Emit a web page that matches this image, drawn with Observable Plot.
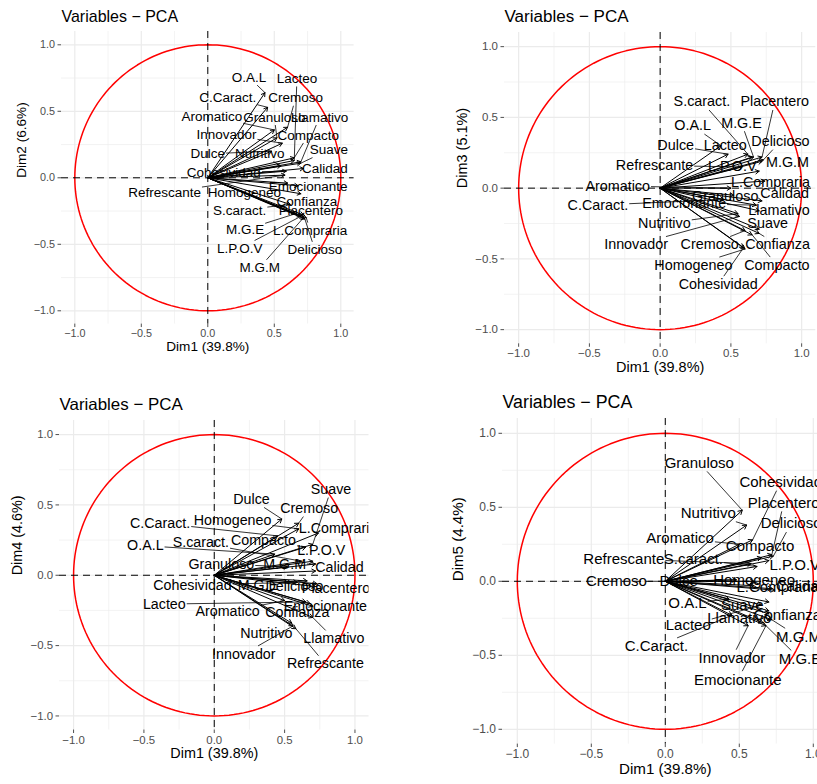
<!DOCTYPE html>
<html><head><meta charset="utf-8">
<script src="https://cdn.jsdelivr.net/npm/d3@7"></script>
<script src="https://cdn.jsdelivr.net/npm/@observablehq/plot@0.6"></script>
<style>
body{margin:0;background:#fff;}
#wrap{position:relative;width:817px;height:784px;overflow:hidden;background:#fff;}
#wrap svg{position:absolute;}
</style></head><body><div id="wrap"></div>
<script>
// ---- data ----
const variables = ["O.A.L","Lacteo","C.Caract.","Cremoso","Aromatico","Granuloso","Llamativo","Innovador","Compacto","Suave","Dulce","Nutritivo","Calidad","Cohesividad","Refrescante","Homogeneo","Emocionante","Confianza","S.caract.","Placentero","M.G.E","L.Compraria","L.P.O.V","Delicioso","M.G.M"];
const dim1 = [0.43,0.65,0.45,0.60,0.50,0.52,0.70,0.56,0.65,0.70,0.48,0.55,0.72,0.59,0.58,0.60,0.68,0.70,0.62,0.72,0.66,0.74,0.70,0.73,0.72];
const dim2 = [0.64,0.13,0.53,0.38,0.36,0.30,0.12,0.26,0.15,0.11,0.20,0.09,0.07,0.05,0.02,-0.04,-0.06,-0.12,-0.20,-0.28,-0.27,-0.30,-0.29,-0.31,-0.30];
const dim3 = [0.30,0.22,-0.08,-0.30,0.00,-0.05,-0.16,-0.20,-0.33,-0.29,0.24,-0.18,-0.09,-0.42,0.15,-0.43,-0.12,-0.32,0.24,0.22,0.22,0.05,0.12,0.20,0.19];
const dim4 = [0.15,-0.19,0.28,0.37,-0.18,0.06,-0.30,-0.36,0.20,0.22,0.40,-0.34,0.03,-0.05,-0.38,0.33,-0.20,-0.22,0.10,-0.08,-0.04,0.30,0.10,-0.06,0.08];
const dim5 = [-0.12,-0.16,-0.23,0.00,0.25,0.48,-0.22,-0.30,0.16,-0.14,0.01,0.38,-0.05,0.28,0.12,-0.03,-0.30,-0.20,0.10,0.18,-0.28,-0.06,0.14,0.17,-0.26];
const axisTitles = {dim1:"Dim1 (39.8%)", dim2:"Dim2 (6.6%)", dim3:"Dim3 (5.1%)", dim4:"Dim4 (4.6%)", dim5:"Dim5 (4.4%)"};
const chartTitle = "Variables − PCA";
const tickValues = [-1,-0.5,0,0.5,1];
const minorTicks = [-0.75,-0.25,0.25,0.75];
// repelled label positions (data units) for each panel
const labels12 = [[0.31,0.755],[0.67,0.745],[0.15,0.605],[0.66,0.60],[0.03,0.46],[0.50,0.455],[0.84,0.455],[0.14,0.325],[0.755,0.32],[0.91,0.21],[0.0,0.18],[0.39,0.18],[0.88,0.065],[0.12,0.04],[-0.325,-0.11],[0.275,-0.11],[0.755,-0.07],[0.745,-0.18],[0.24,-0.245],[0.775,-0.25],[0.28,-0.39],[0.77,-0.395],[0.24,-0.53],[0.805,-0.54],[0.39,-0.675]];
const labels13 = [[0.23,0.44],[0.46,0.30],[-0.44,-0.12],[0.35,-0.40],[-0.30,0.015],[0.46,-0.06],[0.84,-0.16],[-0.17,-0.40],[0.825,-0.545],[0.76,-0.25],[0.11,0.30],[0.03,-0.25],[0.88,-0.04],[0.41,-0.68],[-0.04,0.16],[0.235,-0.545],[0.17,-0.11],[0.83,-0.40],[0.295,0.61],[0.81,0.61],[0.575,0.46],[0.78,0.04],[0.51,0.155],[0.85,0.33],[0.90,0.18]];
const labels14 = [[-0.49,0.21],[-0.355,-0.205],[-0.385,0.37],[0.675,0.475],[0.095,-0.26],[0.05,0.08],[0.85,-0.45],[0.21,-0.56],[0.35,0.245],[0.83,0.61],[0.265,0.54],[0.37,-0.41],[0.89,0.055],[-0.155,-0.07],[0.79,-0.63],[0.13,0.39],[0.79,-0.225],[0.59,-0.265],[-0.095,0.23],[0.865,-0.095],[0.31,-0.07],[0.88,0.33],[0.76,0.18],[0.57,-0.08],[0.50,0.08]];
const labels15 = [[0.15,-0.15],[0.155,-0.30],[-0.06,-0.44],[-0.33,0.0],[0.10,0.29],[0.23,0.80],[0.50,-0.25],[0.45,-0.52],[0.64,0.24],[0.52,-0.16],[0.09,0.0],[0.29,0.46],[0.92,-0.03],[0.78,0.67],[-0.28,0.15],[0.60,0.01],[0.49,-0.665],[0.825,-0.23],[0.19,0.15],[0.80,0.53],[0.91,-0.525],[0.76,-0.04],[0.875,0.11],[0.85,0.39],[0.90,-0.375]];

// ---- layout ----
const panels = [
  {dimY: dim2, yTitle: axisTitles.dim2, labels: labels12, originX: 207, originY: 177, unit: 133},
  {dimY: dim3, yTitle: axisTitles.dim3, labels: labels13, originX: 659.3, originY: 187.7, unit: 141.5},
  {dimY: dim4, yTitle: axisTitles.dim4, labels: labels14, originX: 213.3, originY: 575, unit: 140.7},
  {dimY: dim5, yTitle: axisTitles.dim5, labels: labels15, originX: 664.3, originY: 581, unit: 148}
];
const circle = d3.range(0, 361, 2).map(a => ({x: Math.cos(a*Math.PI/180), y: Math.sin(a*Math.PI/180)}));
const FONT = "'Liberation Sans', Arial, Helvetica, sans-serif";
const ctx = document.createElement("canvas").getContext("2d");
const fmt = d3.format(".1f");
const wrap = document.getElementById("wrap");

function panel(cfg) {
  const u = cfg.unit, s = u / 133;
  const mL = 70, mT = 36, mR = 20, mB = 46;
  const W = mL + 2.2*u + mR, H = mT + 2.2*u + mB;
  const left = cfg.originX - 1.1*u - mL, top = cfg.originY - 1.1*u - mT;
  const fsLab = 13.5*s, fsTick = 10.8*s, fsTitle = 16*s, fsAxis = 13.6*s;
  const data = variables.map((name, i) => ({name, x: dim1[i], y: cfg.dimY[i], lx: cfg.labels[i][0], ly: cfg.labels[i][1]}));
  ctx.font = `${fsLab}px 'Liberation Sans'`;
  const segs = [];
  for (const d of data) {
    const hw = ctx.measureText(d.name).width/2 + 1, hh = fsLab*0.5 + 1;
    const dxp = (d.x - d.lx)*u, dyp = (d.y - d.ly)*u;
    if (Math.abs(dxp) <= hw && Math.abs(dyp) <= hh) continue;
    const t = Math.min(Math.abs(dxp) > 0 ? hw/Math.abs(dxp) : Infinity, Math.abs(dyp) > 0 ? hh/Math.abs(dyp) : Infinity);
    if (Math.hypot(dxp, dyp)*(1 - t) < 5) continue;
    segs.push({x1: d.lx + (d.x - d.lx)*t, y1: d.ly + (d.y - d.ly)*t, x2: d.x, y2: d.y});
  }
  const svg = Plot.plot({
    width: W, height: H, marginLeft: mL, marginRight: mR, marginTop: mT, marginBottom: mB,
    x: {domain: [-1.1, 1.1], label: null},
    y: {domain: [-1.1, 1.1], label: null},
    style: {fontFamily: FONT, fontSize: fsTick + "px", background: "transparent", overflow: "visible"},
    marks: [
      Plot.gridX(minorTicks, {stroke: "#ebebeb", strokeOpacity: 1, strokeWidth: 0.6}),
      Plot.gridY(minorTicks, {stroke: "#ebebeb", strokeOpacity: 1, strokeWidth: 0.6}),
      Plot.gridX(tickValues, {stroke: "#ebebeb", strokeOpacity: 1, strokeWidth: 1.2}),
      Plot.gridY(tickValues, {stroke: "#ebebeb", strokeOpacity: 1, strokeWidth: 1.2}),
      Plot.axisX(tickValues, {tickFormat: fmt, tickSize: 3.5, tickPadding: 2, color: "#4d4d4d", label: null, fontSize: fsTick}),
      Plot.axisY(tickValues, {tickFormat: fmt, tickSize: 3.5, tickPadding: 3, color: "#4d4d4d", label: null, fontSize: fsTick}),
      Plot.line(circle, {x: "x", y: "y", stroke: "#ff0000", strokeWidth: 1.5}),
      Plot.ruleX([0], {stroke: "#000", strokeWidth: 1, strokeDasharray: "7,5"}),
      Plot.ruleY([0], {stroke: "#000", strokeWidth: 1, strokeDasharray: "7,5"}),
      Plot.arrow(data, {x1: () => 0, y1: () => 0, x2: "x", y2: "y", stroke: "#000", strokeWidth: 1, headLength: 6*s, clip: true}),
      Plot.link(segs, {x1: "x1", y1: "y1", x2: "x2", y2: "y2", stroke: "#000", strokeWidth: 0.8, clip: true}),
      Plot.text(data, {x: "lx", y: "ly", text: "name", fontSize: fsLab, fill: "#000", clip: true}),
      Plot.text([chartTitle], {frameAnchor: "top-left", dy: -9.7*s, lineAnchor: "bottom", textAnchor: "start", fontSize: fsTitle, fill: "#000"}),
      Plot.text([axisTitles.dim1], {frameAnchor: "bottom", dy: 0.2*u, fontSize: fsAxis, fill: "#000"}),
      Plot.text([cfg.yTitle], {frameAnchor: "left", dx: -0.3*u, rotate: -90, fontSize: fsAxis, fill: "#000"})
    ]
  });
  svg.style.left = left + "px";
  svg.style.top = top + "px";
  wrap.appendChild(svg);
}
panels.forEach(panel);
</script></body></html>
